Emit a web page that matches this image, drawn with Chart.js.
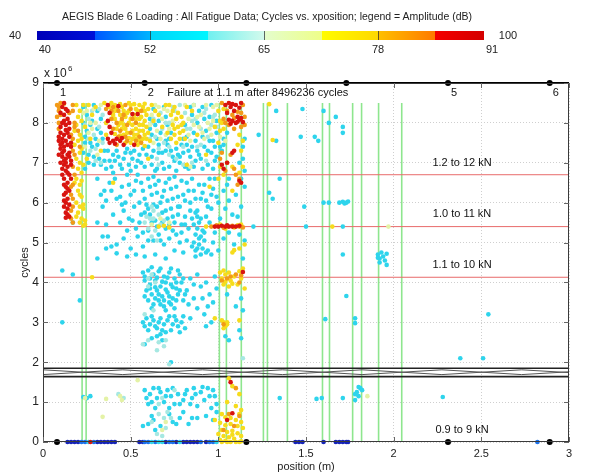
<!DOCTYPE html>
<html>
<head>
<meta charset="utf-8">
<script src="https://cdn.jsdelivr.net/npm/chart.js@4.4.1/dist/chart.umd.min.js"></script>
<style>
  html, body { margin: 0; padding: 0; background: #fff; }
  #wrap { position: relative; width: 604px; height: 475px; font-family: "Liberation Sans", Arial, sans-serif; color: #222; }
  #plot { position: absolute; left: 0; top: 0; }
  #title { position: absolute; left: 0; width: 534px; top: 10px; text-align: center; font-size: 10.5px; white-space: nowrap; }
  #cbar { position: absolute; left: 37px; top: 31px; width: 447px; height: 9px; }
  .cb-lbl { position: absolute; font-size: 11px; transform: translateX(-50%); white-space: nowrap; }
  .cb-tick { position: absolute; top: 31px; width: 1px; height: 9px; background: rgba(40,40,40,.7); }
</style>
</head>
<body>
<div id="wrap">
  <canvas id="plot" width="604" height="475" style="width:604px;height:475px"></canvas>
  <div id="title">AEGIS Blade 6 Loading : All Fatigue Data; Cycles vs. xposition; legend = Amplitude (dB)</div>
  <div id="cbar"></div>
</div>
<script>
/* ---------- data (x = position m, y = cycles x 10^6), grouped by amplitude band ---------- */
const amp85to91 = [ // red
  0.11,8.4, 0.13,8.35, 0.12,8.2, 0.14,8.1, 0.11,8.0, 0.13,7.95, 0.15,7.85, 0.10,7.75, 0.12,7.7, 0.15,7.65,
  0.09,7.55, 0.11,7.5, 0.14,7.45, 0.16,7.4, 0.10,7.35, 0.12,7.3, 0.15,7.25, 0.09,7.2, 0.11,7.15, 0.13,7.1,
  0.16,7.05, 0.10,7.0, 0.12,6.95, 0.14,6.9, 0.13,6.8, 0.15,6.7, 0.12,6.6, 0.14,6.5, 0.13,6.4, 0.15,6.3,
  0.12,6.2, 0.14,6.1, 0.13,6.0, 0.12,5.9, 0.14,5.85, 0.13,5.75, 0.15,5.65, 0.11,7.6, 0.13,7.55, 0.10,7.9,
  0.16,7.5, 0.12,7.4, 0.14,7.2, 0.11,6.85, 0.16,6.6, 0.12,8.05, 0.14,7.75, 0.13,7.0, 0.11,6.7, 0.13,6.25, 0.15,5.95,
  0.10,8.25, 0.12,8.5, 0.14,8.3, 0.15,8.0, 0.13,7.82, 0.11,7.25, 0.15,7.15, 0.12,7.05, 0.16,6.95, 0.14,6.75,
  0.12,6.45, 0.14,6.35, 0.12,6.05, 0.14,5.7, 0.13,5.62, 0.10,7.45, 0.09,7.65,
  0.37,8.45, 0.38,8.25, 0.37,8.05, 0.38,7.9, 0.39,7.75, 0.37,7.6, 0.38,7.5, 0.40,7.55, 0.42,7.6, 0.44,7.55,
  0.41,7.48, 0.46,7.45, 0.52,7.45, 0.51,8.22, 0.54,8.22, 0.45,7.62, 0.43,8.42,
  1.04,8.45, 1.07,8.4, 1.10,8.45, 1.12,8.38, 1.08,8.05, 1.10,8.0, 1.12,8.08, 1.14,8.02, 1.07,7.98, 1.11,8.15,
  1.05,8.25, 1.09,8.3, 1.13,8.5, 1.06,8.5, 1.06,8.08, 1.13,8.12, 1.08,8.47, 1.11,8.03,
  1.08,7.25, 1.02,6.95, 1.03,6.85, 1.13,6.5, 1.05,7.0, 1.09,7.3, 1.12,6.55,
  0.98,5.4, 1.00,5.4, 1.02,5.42, 1.04,5.4, 1.06,5.4, 1.10,5.4, 1.05,5.43, 1.08,5.4, 1.12,5.42,
  1.14,4.26, 1.07,1.5, 1.08,0.72, 1.05,0.55, 0.27,0
];
const amp78to85 = [ // orange
  0.08,8.45, 0.09,8.3, 0.08,8.15, 0.09,8.0, 0.10,8.5, 0.17,8.3, 0.18,8.0, 0.17,7.6, 0.18,7.2, 0.17,6.9,
  0.16,6.2, 0.17,5.9, 0.16,5.6, 0.20,7.8, 0.21,7.4, 0.12,8.48, 0.15,8.25, 0.17,6.45,
  0.09,8.4, 0.10,8.2, 0.09,7.85, 0.17,8.45, 0.18,7.9, 0.16,7.7, 0.17,7.3, 0.18,6.7, 0.16,6.4, 0.17,6.1,
  0.16,5.8, 0.17,5.5,
  0.36,8.35, 0.40,8.4, 0.43,8.3, 0.47,8.45, 0.50,8.35, 0.56,8.3, 0.39,8.1, 0.42,8.0, 0.45,8.1, 0.48,7.95,
  0.53,8.0, 0.40,7.85, 0.44,7.8, 0.50,7.75, 0.55,7.65, 0.43,7.65, 0.48,7.55, 0.56,7.5,
  0.46,8.2, 0.51,8.1, 0.53,7.55, 0.47,7.65, 0.42,7.45, 0.39,8.3,
  1.02,8.5, 1.05,8.3, 1.08,8.2, 1.13,8.25, 1.03,8.1, 1.06,7.95, 1.13,7.9, 1.15,8.15, 1.01,7.1, 1.04,6.8,
  1.07,7.2, 1.12,6.6, 1.10,6.7, 1.09,8.12, 1.11,8.28, 1.14,8.45, 1.04,8.0, 1.09,7.85, 1.15,7.95, 1.02,7.25,
  1.09,6.85, 1.11,6.45,
  0.96,5.4, 0.99,5.43, 1.03,5.37, 1.08,5.42, 1.12,5.4, 1.14,5.38,
  1.05,4.1, 1.10,4.2, 1.12,4.0, 1.07,4.15, 1.02,4.05, 1.13,4.18,
  1.03,2.95, 1.10,1.35, 1.06,0.7, 1.12,0.65, 1.09,0.4, 1.03,0.3
];
const amp72to78 = [ // yellow
  0.19,8.45, 0.21,8.3, 0.20,8.15, 0.22,8.05, 0.19,7.95, 0.21,7.7, 0.20,7.55, 0.22,7.35, 0.19,7.1, 0.21,7.0,
  0.20,6.85, 0.22,6.75, 0.19,6.6, 0.21,6.45, 0.20,6.3, 0.22,6.15, 0.19,6.0, 0.21,5.9, 0.20,5.75, 0.22,5.6,
  0.21,5.5, 0.23,5.42, 0.24,5.55, 0.23,5.85, 0.18,6.5, 0.18,7.45, 0.26,8.45, 0.30,8.4, 0.28,8.2,
  0.24,7.9, 0.23,8.45, 0.22,7.6, 0.21,7.25, 0.23,6.95, 0.22,6.55, 0.21,6.2, 0.23,5.95, 0.19,5.65, 0.24,5.45, 0.18,7.8,
  0.35,8.5, 0.39,8.5, 0.41,8.45, 0.44,8.47, 0.49,8.5, 0.52,8.47, 0.55,8.45, 0.58,8.48, 0.42,8.35, 0.46,8.3,
  0.48,8.25, 0.53,8.35, 0.58,8.3, 0.40,8.2, 0.44,8.2, 0.47,8.15, 0.56,8.15, 0.59,8.2, 0.41,8.1, 0.50,8.1,
  0.53,8.1, 0.58,8.05, 0.43,7.95, 0.46,7.95, 0.51,7.95, 0.55,7.95, 0.59,7.9, 0.42,7.85, 0.47,7.85, 0.53,7.85,
  0.57,7.8, 0.41,7.72, 0.46,7.7, 0.52,7.7, 0.58,7.7, 0.44,7.68, 0.49,7.62, 0.53,7.6, 0.59,7.6, 0.47,7.5,
  0.50,7.5, 0.54,7.45, 0.58,7.42, 0.36,7.7, 0.36,8.0, 0.44,8.0, 0.55,7.55, 0.60,8.35, 0.62,8.45, 0.64,8.3,
  0.38,8.4, 0.41,8.3, 0.45,8.4, 0.50,8.45, 0.54,8.3, 0.57,8.4, 0.49,8.3, 0.45,8.05, 0.52,8.2, 0.49,8.0,
  0.55,8.1, 0.57,7.95, 0.45,7.85, 0.51,7.8, 0.55,7.8, 0.48,7.75, 0.54,7.7, 0.51,7.6, 0.57,7.6, 0.60,7.75,
  0.61,7.55, 0.63,8.05, 0.66,8.2,
  0.73,8.2, 0.76,8.1, 0.79,8.15, 0.74,7.95, 0.77,7.9, 0.80,7.8, 0.75,7.7, 0.78,7.6, 0.76,7.5, 0.80,8.0,
  0.82,8.4, 0.70,8.45, 0.85,8.3, 0.88,7.7, 0.68,7.9, 0.72,8.45, 0.75,8.4, 0.77,8.25, 0.79,7.95, 0.81,7.6,
  0.78,7.75, 0.75,7.85, 0.73,7.6, 0.74,8.3, 0.71,7.75,
  1.00,8.3, 1.02,8.0, 1.01,7.8, 1.12,7.7, 1.00,7.5, 1.13,7.3, 1.05,7.0, 1.00,6.6, 1.14,6.9, 1.08,6.3, 0.98,7.9,
  1.03,8.35, 1.01,8.05, 1.03,7.85, 1.14,7.55, 1.11,7.45, 1.12,6.75, 1.03,6.7, 1.01,6.9, 1.08,6.9,
  0.27,7.6, 0.25,7.1, 0.33,7.3, 0.60,7.1, 0.82,6.95, 0.93,7.2, 0.95,6.4, 0.40,6.5,
  0.66,5.4, 0.69,5.42, 0.72,5.38, 0.93,5.4, 1.01,5.45, 1.09,5.38, 1.13,5.45, 1.65,5.4, 1.04,5.35, 1.11,5.43,
  1.09,4.81, 1.12,4.85, 1.08,4.75, 1.15,4.95, 1.02,4.1, 1.04,4.2, 1.07,4.05, 1.09,4.15, 1.13,4.1, 1.11,3.95,
  1.03,3.95, 1.06,3.9, 1.01,4.25, 1.14,4.35, 1.03,4.3, 1.06,4.25, 1.08,3.97, 1.12,4.28, 1.04,4.02, 1.15,3.85,
  1.02,3.05, 1.04,2.9, 1.05,3.0, 1.03,2.85, 0.98,3.1, 1.12,3.05, 1.03,3.0, 1.05,2.95,
  1.06,1.6, 1.08,1.4, 1.12,1.2, 1.05,1.0, 1.10,0.9, 1.13,0.8, 1.02,0.7, 1.04,0.62, 1.07,0.6, 1.10,0.55,
  1.13,0.5, 1.01,0.48, 1.04,0.42, 1.07,0.45, 1.11,0.4, 1.14,0.35, 1.02,0.3, 1.05,0.25, 1.08,0.28, 1.11,0.22,
  1.13,0.15, 1.03,0.15, 1.06,0.12, 1.09,0.08, 1.01,0.05, 1.04,0.03, 1.07,0.0, 1.10,0.0, 1.13,0.02, 1.00,0.2,
  0.98,0.55, 1.12,0.7, 1.08,0.18, 1.02,0.0, 1.05,0.0, 1.12,0.0,
  1.31,7.57, 1.29,8.47, 0.28,4.13
];
const amp65to72 = [ // pale yellow
  0.62,8.2, 0.66,8.4, 0.68,8.1, 0.71,8.3, 0.65,7.8, 0.70,7.7, 0.83,8.1, 0.86,8.45, 0.90,8.2, 0.94,8.0,
  0.92,7.6, 0.97,8.4, 0.84,7.55, 0.63,7.5, 0.25,8.3, 0.30,8.0, 0.33,8.45, 0.28,7.85, 0.24,7.4, 0.31,7.2,
  0.89,7.9, 0.96,7.7, 0.61,7.95, 0.64,8.45, 0.67,7.6, 0.69,8.35, 0.72,7.85, 0.74,8.05, 0.81,8.45, 0.83,7.7,
  0.86,7.95, 0.88,8.15, 0.91,7.75, 0.93,8.45, 0.95,7.85, 0.97,8.05, 0.99,8.45, 0.27,8.0, 0.32,7.55, 0.26,7.75,
  0.29,8.35, 0.23,8.25, 0.84,6.9, 1.01,7.65, 1.04,7.55,
  0.67,5.6, 0.62,5.45, 0.72,5.5, 0.44,1.15, 0.45,1.05, 0.36,1.08, 0.34,0.63, 0.68,0.3, 0.70,0.5,
  1.85,1.15, 1.97,5.4, 0.54,1.55, 0.24,1.1
];
const amp59to65 = [ // pale cyan
  0.26,8.1, 0.29,7.7, 0.32,7.9, 0.34,7.5, 0.27,7.3, 0.30,7.05, 0.62,8.0, 0.64,7.65, 0.67,8.25, 0.69,7.5,
  0.72,8.0, 0.74,8.4, 0.81,8.25, 0.84,7.85, 0.87,8.1, 0.90,7.45, 0.93,8.35, 0.96,7.95, 0.98,8.2, 0.65,7.1,
  0.72,7.2, 0.85,7.0, 0.24,7.95, 0.26,7.6, 0.28,8.3, 0.32,8.35, 0.34,8.2, 0.30,7.35, 0.33,7.0, 0.61,7.6,
  0.63,8.1, 0.66,7.35, 0.68,7.85, 0.70,8.0, 0.72,7.4, 0.75,8.3, 0.78,8.45, 0.80,7.4, 0.82,7.85, 0.85,8.05,
  0.88,7.4, 0.90,7.85, 0.92,8.25, 0.94,7.65, 0.97,8.15, 0.99,7.9, 0.66,6.95, 0.76,7.1, 0.80,6.95, 0.93,7.05,
  0.63,5.8, 0.61,5.6, 0.64,5.3, 0.66,5.7, 0.69,5.55, 0.62,5.15, 0.58,5.5, 0.60,5.35, 0.63,5.6, 0.65,5.05,
  0.67,5.45, 0.59,5.65, 0.62,5.9, 0.60,3.9, 0.62,4.2, 0.64,4.0, 0.60,4.1, 0.63,3.3, 0.58,3.2,
  0.57,2.45, 0.66,2.5, 0.69,2.4, 0.70,2.55, 0.65,2.3, 0.60,2.55, 0.62,0.5, 0.66,0.7, 0.70,0.35, 0.73,0.6,
  0.68,1.1, 0.75,1.3, 0.66,0.95, 0.69,0.6, 0.71,0.75, 0.65,0.2, 0.68,0.15, 0.43,1.2, 0.46,1.1, 0.72,1.95, 1.14,2.1
];
const amp52to59 = [ // cyan
  0.23,8.0, 0.25,7.8, 0.24,7.5, 0.27,7.95, 0.30,7.6, 0.33,7.75, 0.28,7.4, 0.32,7.1, 0.35,7.3, 0.26,7.0,
  0.29,6.95, 0.24,6.85, 0.23,8.4, 0.25,8.2, 0.28,8.05, 0.31,8.3, 0.33,8.1, 0.24,7.65, 0.27,7.5, 0.31,7.45,
  0.34,7.6, 0.26,7.2, 0.29,7.15, 0.33,6.95, 0.23,7.25, 0.35,7.05, 0.31,7.85, 0.29,8.45,
  0.37,7.3, 0.39,6.9, 0.41,7.05, 0.43,7.15, 0.45,6.85, 0.47,7.25, 0.49,6.95, 0.51,7.1, 0.52,7.3, 0.55,7.2,
  0.57,7.35, 0.58,6.9, 0.36,6.85, 0.40,6.75, 0.50,6.8, 0.54,7.05,
  0.61,7.85, 0.63,7.3, 0.66,7.45, 0.68,7.0, 0.70,7.3, 0.72,6.9, 0.74,7.15, 0.76,7.35, 0.78,7.0, 0.80,7.25,
  0.82,7.45, 0.84,7.15, 0.86,6.9, 0.88,7.3, 0.90,7.1, 0.92,7.4, 0.94,6.95, 0.96,7.25, 0.98,7.05, 0.62,6.95,
  0.65,6.85, 0.59,7.2, 0.56,7.0, 0.50,7.25, 0.46,7.1, 0.42,7.3, 0.38,7.05, 0.44,6.95, 0.53,6.9, 0.48,7.35, 0.40,7.2,
  0.63,8.35, 0.66,8.05, 0.70,8.15, 0.72,7.6, 0.82,7.65, 0.85,8.2, 0.88,8.0, 0.91,8.4, 0.93,7.8, 0.95,8.15,
  0.97,7.55, 0.99,7.75, 0.87,7.55, 0.86,8.45, 0.65,7.6, 0.69,8.4, 0.61,8.1, 1.15,7.6, 1.14,7.1,
  0.60,7.4, 0.62,7.7, 0.64,7.95, 0.67,7.75, 0.68,7.25, 0.71,7.45, 0.71,7.95, 0.73,7.3, 0.75,7.05, 0.77,7.2,
  0.79,7.45, 0.81,6.9, 0.81,7.95, 0.83,7.3, 0.84,8.4, 0.86,7.75, 0.87,7.05, 0.89,7.2, 0.89,8.3, 0.91,7.65,
  0.91,6.85, 0.92,8.1, 0.94,7.3, 0.95,7.55, 0.96,8.45, 0.97,6.85, 0.98,7.4, 0.99,8.05, 0.99,7.15, 0.62,7.15,
  0.64,6.8, 0.66,7.25, 0.69,6.85, 0.70,7.55, 0.73,7.75, 0.76,6.8, 0.78,7.15, 0.80,7.6, 0.83,6.85, 0.85,7.4,
  1.01,7.4, 1.03,7.6, 1.05,7.75, 1.02,7.3, 1.14,7.4, 1.12,7.0, 1.15,6.8, 1.06,6.6, 1.03,7.45,
  0.31,6.6, 0.35,6.3, 0.38,6.5, 0.42,6.1, 0.45,6.4, 0.48,6.7, 0.50,6.2, 0.53,6.55, 0.55,6.0, 0.57,6.3,
  0.60,6.6, 0.62,6.2, 0.64,6.45, 0.67,6.0, 0.69,6.3, 0.72,6.6, 0.74,6.1, 0.76,6.4, 0.78,5.9, 0.80,6.2,
  0.82,6.5, 0.84,6.0, 0.86,6.3, 0.88,5.8, 0.90,6.1, 0.92,6.45, 0.94,5.9, 0.96,6.2, 0.98,6.6, 1.00,6.0,
  1.03,6.3, 1.06,6.05, 1.10,6.2, 1.13,5.9, 1.15,6.4, 0.46,5.8, 0.49,5.6, 0.52,5.9, 0.56,5.7, 0.59,5.95,
  0.62,5.5, 0.65,5.9, 0.68,5.75, 0.71,5.6, 0.73,5.85, 0.75,5.5, 0.77,5.7, 0.79,5.45, 0.81,5.65, 0.83,5.35,
  0.85,5.6, 0.87,5.2, 0.89,5.5, 0.91,5.3, 0.93,5.65, 0.86,5.0, 0.88,4.85, 0.90,4.7, 0.92,5.05, 0.87,4.65,
  0.94,4.8, 0.89,5.1, 0.60,5.3, 0.63,5.05, 0.66,5.2, 0.69,4.95, 0.72,5.1, 0.75,4.8, 0.78,5.0, 0.80,4.75,
  0.57,4.9, 0.54,5.15, 0.50,4.85, 0.46,5.1, 0.42,4.95, 0.39,4.9, 0.34,5.15, 0.37,5.15, 0.31,5.5, 0.34,5.9,
  0.31,4.6, 0.42,4.73, 0.17,5.5, 0.11,4.3, 0.17,4.2, 0.21,3.55, 0.11,3.0, 0.95,5.5, 0.97,5.0, 1.00,4.8,
  1.03,5.1, 1.08,5.7, 1.12,5.2, 1.14,4.6, 0.96,4.7, 0.61,5.7, 0.64,5.55, 0.70,5.35, 0.74,5.3, 0.68,5.5,
  0.33,6.2, 0.36,6.05, 0.39,6.3, 0.41,6.6, 0.44,6.15, 0.47,6.0, 0.49,6.45, 0.52,6.3, 0.54,6.7, 0.56,6.5,
  0.58,6.1, 0.61,6.4, 0.63,6.65, 0.65,6.25, 0.66,6.55, 0.68,6.15, 0.70,6.5, 0.71,6.05, 0.73,6.35, 0.75,6.65,
  0.77,6.15, 0.79,6.55, 0.81,6.05, 0.83,6.3, 0.85,6.6, 0.87,6.1, 0.89,6.45, 0.91,6.25, 0.93,6.05, 0.95,6.6,
  0.97,6.35, 0.99,6.15, 0.55,5.5, 0.57,5.25, 0.58,5.75, 0.60,5.05, 0.60,5.85, 0.63,5.95, 0.65,5.4, 0.67,5.05,
  0.70,5.8, 0.72,5.45, 0.74,5.65, 0.76,5.2, 0.77,5.9, 0.79,5.25, 0.81,5.45, 0.82,5.05, 0.84,5.8, 0.86,5.45,
  0.87,5.75, 0.88,5.35, 0.89,4.95, 0.90,5.6, 0.91,4.85, 0.92,5.25, 0.93,4.75, 0.87,4.8, 0.85,4.9, 0.88,5.65,
  0.90,5.15, 0.44,5.5, 0.48,5.3, 0.51,5.55, 0.53,5.35, 0.45,5.95, 0.40,5.7, 0.36,5.45, 0.48,4.65, 0.53,4.7,
  0.58,4.65, 0.64,4.7, 0.70,4.6, 0.36,4.85, 1.01,5.6, 1.04,5.85, 1.06,5.25, 1.09,4.95, 1.11,5.65, 1.13,6.6,
  1.05,6.45, 1.15,5.05, 0.98,5.25, 0.96,5.85,
  1.33,8.3, 1.48,8.35, 1.60,8.3, 1.63,8.0, 1.67,8.15, 1.71,7.9, 1.71,7.75, 1.23,7.7, 1.33,7.55, 1.47,7.65,
  1.55,7.65, 1.57,7.55, 1.35,6.6, 1.29,6.25, 1.31,6.1, 1.49,5.9, 1.60,6.0, 1.63,6.0, 1.69,6.0, 1.71,6.02,
  1.72,5.98, 1.74,6.03, 1.73,6.0, 1.50,5.4, 1.71,5.4, 1.20,5.4, 1.71,4.7, 1.91,4.7, 1.92,4.6, 1.93,4.75,
  1.94,4.65, 1.92,4.5, 1.95,4.55, 1.96,4.72, 1.96,4.44, 1.91,4.62, 1.73,3.66, 1.61,3.08, 1.78,3.1, 1.78,2.98,
  2.54,3.2, 2.38,2.1, 2.51,2.1, 1.56,1.08, 1.59,1.1, 1.71,1.1, 1.78,1.05, 1.80,1.15, 1.79,1.25, 1.81,1.35,
  1.80,1.38, 1.82,1.3, 1.78,1.2, 2.28,1.13, 1.35,1.1,
  0.57,4.25, 0.60,4.3, 0.63,4.2, 0.66,4.28, 0.69,4.15, 0.72,4.25, 0.75,4.1, 0.78,4.2, 0.58,4.05, 0.61,3.95,
  0.64,4.05, 0.67,3.9, 0.70,4.0, 0.73,3.95, 0.76,3.85, 0.79,4.0, 0.59,3.8, 0.62,3.7, 0.65,3.8, 0.68,3.65,
  0.71,3.75, 0.74,3.6, 0.77,3.7, 0.80,3.55, 0.60,3.55, 0.63,3.45, 0.66,3.55, 0.69,3.4, 0.72,3.5, 0.75,3.35,
  0.82,3.8, 0.84,4.1, 0.86,3.6, 0.90,3.9, 0.93,4.0, 0.95,3.7, 0.97,3.5, 0.99,3.85, 0.88,3.35, 0.92,3.2,
  0.58,4.15, 0.61,4.1, 0.62,4.38, 0.64,3.88, 0.65,4.12, 0.67,4.35, 0.68,4.02, 0.70,3.82, 0.71,4.12, 0.72,3.65,
  0.73,4.35, 0.74,3.88, 0.76,4.0, 0.77,4.3, 0.78,3.8, 0.66,3.7, 0.69,3.55, 0.62,3.35, 0.64,3.6, 0.67,3.45,
  0.70,3.3, 0.73,3.45, 0.76,3.55, 0.61,3.85, 0.80,4.1, 0.81,3.7, 0.83,3.45, 0.86,3.95, 0.88,4.2, 0.91,3.6,
  0.94,3.4, 0.98,4.15, 0.58,3.65,
  1.13,3.6, 1.14,3.3, 1.12,2.8, 1.13,2.6, 1.04,2.65, 1.06,2.55, 1.10,3.4, 1.05,3.7,
  0.57,3.0, 0.59,3.1, 0.61,2.95, 0.63,3.05, 0.65,2.85, 0.67,3.1, 0.69,2.95, 0.71,3.05, 0.73,2.8, 0.75,3.15,
  0.77,2.9, 0.79,3.0, 0.81,2.85, 0.60,2.8, 0.70,2.75, 0.84,3.1, 0.96,3.0, 0.93,2.9, 0.58,2.45, 0.73,2.0, 0.68,2.55,
  0.58,2.9, 0.62,3.15, 0.64,2.9, 0.66,3.0, 0.68,2.8, 0.72,3.15, 0.74,2.95, 0.76,3.05, 0.78,2.75, 0.80,3.15,
  0.62,2.6, 0.65,2.65, 0.67,2.7,
  0.58,1.3, 0.61,1.2, 0.63,1.35, 0.65,1.1, 0.67,1.25, 0.69,1.0, 0.71,1.3, 0.73,1.15, 0.75,0.95, 0.77,1.2,
  0.80,1.05, 0.82,1.3, 0.85,1.1, 0.88,0.9, 0.90,1.25, 0.92,1.05, 0.94,1.35, 0.96,0.85, 0.98,1.15, 0.60,0.95,
  0.64,0.85, 0.72,0.85, 0.86,1.35, 0.99,0.95, 0.60,0.45, 0.62,0.65, 0.64,0.3, 0.72,0.7, 0.76,0.45, 0.78,0.6,
  0.85,0.6, 0.88,0.6, 0.93,0.65, 0.97,0.55, 0.99,0.75, 0.23,1.13, 0.25,1.1, 0.27,1.15, 0.57,0.4,
  0.59,1.1, 0.62,1.0, 0.66,1.35, 0.70,1.15, 0.74,1.35, 0.78,0.95, 0.81,1.2, 0.84,0.95, 0.87,1.2, 0.91,1.38,
  0.95,1.15, 0.97,1.3, 0.63,0.55, 0.67,0.4, 0.74,0.5, 0.80,0.75, 0.83,0.45,
  0.26,0, 0.62,0, 0.66,0, 0.68,0, 0.78,0, 0.99,0
];
const amp46to52 = [ // blue
  0.22,0, 0.24,0, 0.29,0, 0.58,0, 0.60,0, 0.64,0, 0.72,0, 0.74,0, 0.90,0, 0.95,0, 0.97,0, 2.82,0
];
const amp40to46 = [ // dark blue
  0.14,0, 0.16,0, 0.18,0, 0.20,0, 0.31,0, 0.33,0, 0.35,0, 0.37,0, 0.39,0, 0.41,0, 0.55,0, 0.57,0,
  0.70,0, 0.76,0, 0.80,0, 0.82,0, 0.84,0, 0.86,0, 0.88,0, 0.93,0, 1.44,0, 1.46,0, 1.48,0, 1.60,0,
  1.67,0, 1.69,0, 1.71,0, 1.73,0, 1.74,0
];

// sensor positions (m) and their labels along the top edge
const sensorX = [0.08, 0.58, 1.16, 1.73, 2.31, 2.89];
const sensorLabels = ["1", "2", "", "", "5", "6"];
const baseSensorX = [0.08, 1.16, 2.31, 2.89];

// load blocks: boundaries (cycles x 10^6) and their labels
const loadLines = [6.7, 5.4, 4.13];
const loadLabels = [["1.2 to 12 kN", 6.99], ["1.0 to 11 kN", 5.71], ["1.1 to 10 kN", 4.44], ["0.9 to 9 kN", 0.3]];
const greenX = [0.223, 0.246, 1.006, 1.046, 1.131, 1.257, 1.28, 1.394, 1.594, 1.634, 1.766, 1.817, 1.914, 2.046];
const greenTop = 8.5;

// axis break band
const breakOuter = [1.85, 1.64];
const breakX = [0, 0.455, 0.91, 1.365, 1.82, 2.275, 2.73, 3.0];
const breakA = [1.81, 1.69, 1.81, 1.69, 1.81, 1.69, 1.81, 1.74];
const breakB = [1.69, 1.81, 1.69, 1.81, 1.69, 1.81, 1.69, 1.76];

const xTicks = [0, 0.5, 1, 1.5, 2, 2.5, 3];
const yTicks = [0, 1, 2, 3, 4, 5, 6, 7, 8, 9];
const cbTicks = [40, 52, 65, 78, 91];
const cbEnds = [40, 100];

/* ---------- helpers ---------- */
const pairs = (a) => { const out = []; for (let i = 0; i < a.length; i += 2) out.push({ x: a[i], y: a[i + 1] }); return out; };
const pts = (data, color) => ({ data: pairs(data), backgroundColor: color, borderWidth: 0, pointRadius: 2.3, clip: 6 });
const line = (data, color, w) => ({ type: "line", data, borderColor: color, borderWidth: w, pointRadius: 0, fill: false, clip: 2 });

/* ---------- colour bar ---------- */
(function () {
  const cb = document.getElementById("cbar");
  cb.style.background = "linear-gradient(to right," +
    "#0000b8 0%,#0010d8 13%,#0058ff 13%,#00b4ff 25.3%,#00d4fa 25.3%,#00f6ff 38.3%," +
    "#70f0f0 38.3%,#d4faec 51%,#e4fdcc 51%,#eefe88 63.8%,#fffc00 63.8%,#ffd800 76.3%," +
    "#ffc000 76.3%,#ff7a00 89%,#f40000 89%,#d40000 100%)";
  const wrap = document.getElementById("wrap");
  const px = (v) => 44.8 + (v - 40) * 8.77;
  cbTicks.forEach((v, i) => {
    const l = document.createElement("div");
    l.className = "cb-lbl"; l.textContent = v;
    l.style.left = px(v) + "px"; l.style.top = "43px";
    wrap.appendChild(l);
    if (i > 0 && i < cbTicks.length - 1) {
      const t = document.createElement("div");
      t.className = "cb-tick"; t.style.left = px(v) + "px";
      wrap.appendChild(t);
    }
  });
  [[cbEnds[0], 15], [cbEnds[1], 508]].forEach(([v, x]) => {
    const l = document.createElement("div");
    l.className = "cb-lbl"; l.textContent = v;
    l.style.left = x + "px"; l.style.top = "29px";
    wrap.appendChild(l);
  });
})();

/* ---------- frame, inner ticks and text ---------- */
const decor = {
  id: "decor",
  afterDraw(chart) {
    const { ctx, chartArea: a, scales: { x, y } } = chart;
    ctx.save();
    ctx.strokeStyle = "#3a3a3a"; ctx.lineWidth = 1;
    ctx.strokeRect(a.left + 0.5, a.top + 0.5, a.right - a.left - 1, a.bottom - a.top - 1);
    ctx.strokeStyle = "#666";
    ctx.beginPath();
    xTicks.forEach(v => { const p = Math.round(x.getPixelForValue(v)) + 0.5;
      ctx.moveTo(p, a.bottom); ctx.lineTo(p, a.bottom - 5); ctx.moveTo(p, a.top); ctx.lineTo(p, a.top + 5); });
    yTicks.forEach(v => { const p = Math.round(y.getPixelForValue(v)) + 0.5;
      ctx.moveTo(a.left, p); ctx.lineTo(a.left + 5, p); ctx.moveTo(a.right, p); ctx.lineTo(a.right - 5, p); });
    ctx.stroke();

    ctx.fillStyle = "#111";
    ctx.font = "11px 'Liberation Sans', Arial, sans-serif";
    ctx.textBaseline = "middle";
    ctx.textAlign = "center";
    sensorX.forEach((sx, i) => { if (sensorLabels[i]) ctx.fillText(sensorLabels[i], x.getPixelForValue(sx + 0.035), y.getPixelForValue(8.76)); });
    loadLabels.forEach(([t, v]) => ctx.fillText(t, x.getPixelForValue(2.39), y.getPixelForValue(v)));
    ctx.textAlign = "left";
    ctx.fillText("Failure at 1.1 m after 8496236 cycles", x.getPixelForValue(0.709), y.getPixelForValue(8.75));

    ctx.fillStyle = "#222";
    ctx.font = "12px 'Liberation Sans', Arial, sans-serif";
    ctx.fillText("x 10", a.left + 1, a.top - 9);
    ctx.font = "8px 'Liberation Sans', Arial, sans-serif";
    ctx.fillText("6", a.left + 25, a.top - 14);

    ctx.font = "11px 'Liberation Sans', Arial, sans-serif";
    ctx.textAlign = "center";
    ctx.fillText("position (m)", (a.left + a.right) / 2, 467);
    ctx.translate(25, (a.top + a.bottom) / 2);
    ctx.rotate(-Math.PI / 2);
    ctx.fillText("cycles", 0, 0);
    ctx.restore();
  }
};

/* ---------- chart ---------- */
const datasets = [
  Object.assign(line(sensorX.map(v => ({ x: v, y: 9 })), "#000", 0), { type: "scatter", pointRadius: 3, backgroundColor: "#000", clip: false }),
  Object.assign(line(baseSensorX.map(v => ({ x: v, y: 0 })), "#000", 0), { type: "scatter", pointRadius: 3, backgroundColor: "#000", clip: false }),
  pts(amp85to91, "#d81410"),
  pts(amp78to85, "#f29a18"),
  pts(amp72to78, "#f6dc1c"),
  pts(amp65to72, "#e4f2a6"),
  pts(amp59to65, "#a6e8e2"),
  pts(amp52to59, "#2ed4ec"),
  pts(amp46to52, "#1a72ee"),
  pts(amp40to46, "#1422b8"),
  line([{ x: 0, y: 9 }, { x: 3, y: 9 }], "#000", 2),
  ...loadLines.map(v => line([{ x: 0, y: v }, { x: 3, y: v }], "#e86a6a", 1)),
  ...breakOuter.map(v => line([{ x: 0, y: v }, { x: 3, y: v }], "#222", 1.6)),
  line(breakX.map((v, i) => ({ x: v, y: breakA[i] })), "#555", 1),
  line(breakX.map((v, i) => ({ x: v, y: breakB[i] })), "#555", 1),
  ...greenX.map(v => line([{ x: v, y: 0 }, { x: v, y: greenTop }], "#8ee68e", 1.6))
];

new Chart(document.getElementById("plot"), {
  type: "scatter",
  data: { datasets },
  options: {
    responsive: false,
    animation: false,
    events: [],
    devicePixelRatio: 1,
    layout: { padding: { top: 83, right: 35, left: 0, bottom: 0 } },
    plugins: { legend: { display: false }, tooltip: { enabled: false } },
    scales: {
      x: {
        type: "linear", min: 0, max: 3,
        afterBuildTicks: (s) => { s.ticks = xTicks.map(v => ({ value: v })); },
        afterFit: (s) => { s.height = 33; },
        grid: { color: "#cfcfcf", drawTicks: false },
        border: { display: false, dash: [1, 2] },
        ticks: { color: "#222", padding: 5, font: { size: 11, family: "'Liberation Sans', Arial, sans-serif" }, callback: (v) => String(v) }
      },
      y: {
        type: "linear", min: 0, max: 9,
        afterBuildTicks: (s) => { s.ticks = yTicks.map(v => ({ value: v })); },
        afterFit: (s) => { s.width = 43; },
        grid: { color: "#cfcfcf", drawTicks: false },
        border: { display: false, dash: [1, 2] },
        ticks: { color: "#222", padding: 4, font: { size: 12, family: "'Liberation Sans', Arial, sans-serif" }, callback: (v) => String(v) }
      }
    }
  },
  plugins: [decor]
});
</script>
</body>
</html>
